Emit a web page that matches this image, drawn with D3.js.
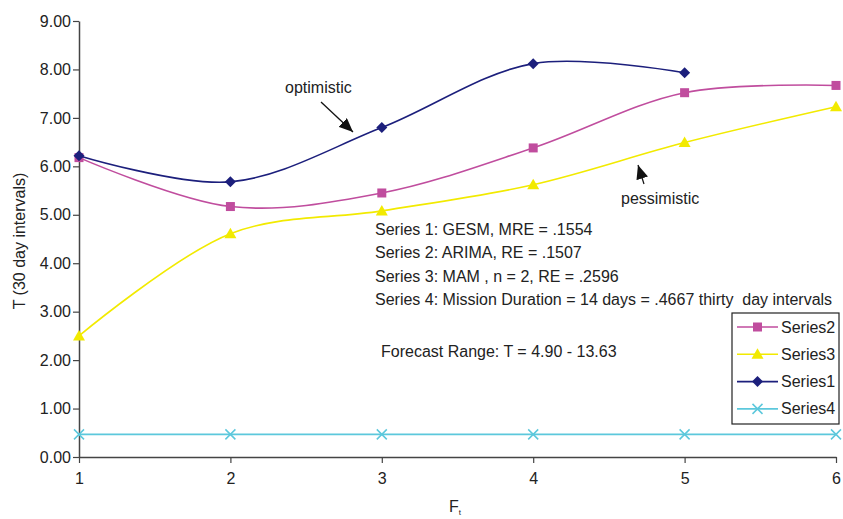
<!DOCTYPE html>
<html>
<head>
<meta charset="utf-8">
<script src="https://cdn.jsdelivr.net/npm/d3@7/dist/d3.min.js"></script>
<style>
  html, body { margin: 0; padding: 0; background: #fff; }
  svg { display: block; font-family: "Liberation Sans", Arial, sans-serif; }
</style>
</head>
<body>
<svg id="chart" width="843" height="519"></svg>
<script>
// Forecast periods and series values
const periods = [1, 2, 3, 4, 5, 6];
const series1 = [6.22, 5.68, 6.80, 8.12, 7.93];          // GESM
const series2 = [6.18, 5.17, 5.45, 6.38, 7.52, 7.67];    // ARIMA
const series3 = [2.50, 4.61, 5.08, 5.62, 6.49, 7.23];    // MAM
const series4 = [0.4667, 0.4667, 0.4667, 0.4667, 0.4667, 0.4667]; // mission duration
const yTicks = [0, 1, 2, 3, 4, 5, 6, 7, 8, 9];
const noteLines = [
  "Series 1: GESM, MRE = .1554",
  "Series 2: ARIMA, RE = .1507",
  "Series 3: MAM , n = 2, RE = .2596",
  "Series 4: Mission Duration = 14 days = .4667 thirty\u00a0 day intervals"
];
const rangeNote = "Forecast Range: T = 4.90 - 13.63";
const legendOrder = ["Series2", "Series3", "Series1", "Series4"];

const svg = d3.select("#chart");
const plotLeft = 79, plotRight = 836, plotTop = 21, plotBottom = 457;

const x = d3.scaleLinear().domain([1, 6]).range([plotLeft, plotRight]);
const y = d3.scaleLinear().domain([0, 9]).range([plotBottom, plotTop]);

const axisColor = "#444";
const textColor = "#222";
const fontSize = 16;

// Y axis
const yAxis = svg.append("g")
  .attr("transform", `translate(${plotLeft},0)`)
  .call(d3.axisLeft(y).tickValues(yTicks).tickFormat(d3.format(".2f")).tickSize(6).tickSizeOuter(0));
yAxis.select(".domain").attr("stroke", axisColor).attr("stroke-width", 1.5);
yAxis.selectAll(".tick line").attr("stroke", axisColor).attr("stroke-width", 1.2);
yAxis.selectAll(".tick text").attr("fill", textColor).attr("font-size", fontSize).attr("x", -8)
  .attr("font-family", "Liberation Sans, Arial, sans-serif");

// X axis
const xAxis = svg.append("g")
  .attr("transform", `translate(0,${plotBottom})`)
  .call(d3.axisBottom(x).tickValues(periods).tickFormat(d3.format("d")).tickSize(6).tickSizeOuter(0));
xAxis.select(".domain").attr("stroke", axisColor).attr("stroke-width", 1.5);
xAxis.selectAll(".tick line").attr("stroke", axisColor).attr("stroke-width", 1.2);
xAxis.selectAll(".tick text").attr("fill", textColor).attr("font-size", fontSize).attr("dy", "1.1em")
  .attr("font-family", "Liberation Sans, Arial, sans-serif");

// Axis titles
svg.append("text")
  .attr("transform", `translate(25,${241}) rotate(-90)`)
  .attr("text-anchor", "middle").attr("font-size", fontSize).attr("fill", textColor)
  .text("T (30 day intervals)");
const xt = svg.append("text").attr("x", 449).attr("y", 512).attr("font-size", fontSize).attr("fill", textColor);
xt.append("tspan").text("F");
xt.append("tspan").attr("font-size", 8).attr("dy", 3).text("t");

// Series definitions
const seriesDefs = {
  Series1: { values: series1, color: "#1c1f7c", marker: "diamond" },
  Series2: { values: series2, color: "#c04d9e", marker: "square" },
  Series3: { values: series3, color: "#f2ea00", marker: "triangle" },
  Series4: { values: series4, color: "#5cc8dc", marker: "cross" }
};

const line = d3.line()
  .x((d, i) => x(periods[i]))
  .y(d => y(d))
  .curve(d3.curveCatmullRom.alpha(0.5));

function drawMarker(g, type, cx, cy, color) {
  if (type === "square") {
    g.append("rect").attr("x", cx - 4.5).attr("y", cy - 4.5).attr("width", 9).attr("height", 9).attr("fill", color);
  } else if (type === "diamond") {
    g.append("path").attr("d", `M${cx},${cy - 5.5}L${cx + 5.5},${cy}L${cx},${cy + 5.5}L${cx - 5.5},${cy}Z`).attr("fill", color);
  } else if (type === "triangle") {
    g.append("path").attr("d", `M${cx},${cy - 6}L${cx + 6},${cy + 4.5}L${cx - 6},${cy + 4.5}Z`).attr("fill", color);
  } else if (type === "cross") {
    g.append("path").attr("d", `M${cx - 5},${cy - 5}L${cx + 5},${cy + 5}M${cx - 5},${cy + 5}L${cx + 5},${cy - 5}`)
      .attr("stroke", color).attr("stroke-width", 1.5).attr("fill", "none");
  }
}

// Draw series: 4, 3, 2, 1 so the navy line sits on top
["Series4", "Series3", "Series2", "Series1"].forEach(name => {
  const s = seriesDefs[name];
  const g = svg.append("g");
  g.append("path").datum(s.values).attr("d", line)
    .attr("fill", "none").attr("stroke", s.color).attr("stroke-width", 1.6);
  s.values.forEach((v, i) => drawMarker(g, s.marker, x(periods[i]), y(v), s.color));
});

// Notes
const notes = svg.append("g").attr("font-size", fontSize).attr("fill", textColor);
noteLines.forEach((t, i) => {
  notes.append("text").attr("x", 375).attr("y", 235 + i * 23.3).text(t);
});
notes.append("text").attr("x", 381).attr("y", 357).text(rangeNote);

// Annotations
svg.append("defs").append("marker")
  .attr("id", "arrowHead").attr("viewBox", "0 0 14 12").attr("refX", 14).attr("refY", 6)
  .attr("markerUnits", "userSpaceOnUse")
  .attr("markerWidth", 14).attr("markerHeight", 12).attr("orient", "auto")
  .append("path").attr("d", "M0,0L14,6L0,12Z").attr("fill", "#111");

svg.append("text").attr("x", 285).attr("y", 93).attr("font-size", fontSize).attr("fill", textColor).text("optimistic");
svg.append("line").attr("x1", 321).attr("y1", 102).attr("x2", 353).attr("y2", 132)
  .attr("stroke", "#111").attr("stroke-width", 1.3).attr("marker-end", "url(#arrowHead)");

svg.append("text").attr("x", 621).attr("y", 204).attr("font-size", fontSize).attr("fill", textColor).text("pessimistic");
svg.append("line").attr("x1", 644).attr("y1", 184).attr("x2", 638).attr("y2", 165)
  .attr("stroke", "#111").attr("stroke-width", 1.2).attr("marker-end", "url(#arrowHead)");

// Legend
const lg = svg.append("g");
lg.append("rect").attr("x", 732).attr("y", 313).attr("width", 107).attr("height", 111)
  .attr("fill", "#fff").attr("stroke", "#222").attr("stroke-width", 1.2);
legendOrder.forEach((name, i) => {
  const s = seriesDefs[name];
  const cy = 327 + i * 27.3;
  lg.append("line").attr("x1", 737).attr("x2", 778).attr("y1", cy).attr("y2", cy)
    .attr("stroke", s.color).attr("stroke-width", 1.6);
  drawMarker(lg, s.marker, 757.5, cy, s.color);
  lg.append("text").attr("x", 781).attr("y", cy + 5.5).attr("font-size", fontSize).attr("fill", textColor).text(name);
});
</script>
</body>
</html>
